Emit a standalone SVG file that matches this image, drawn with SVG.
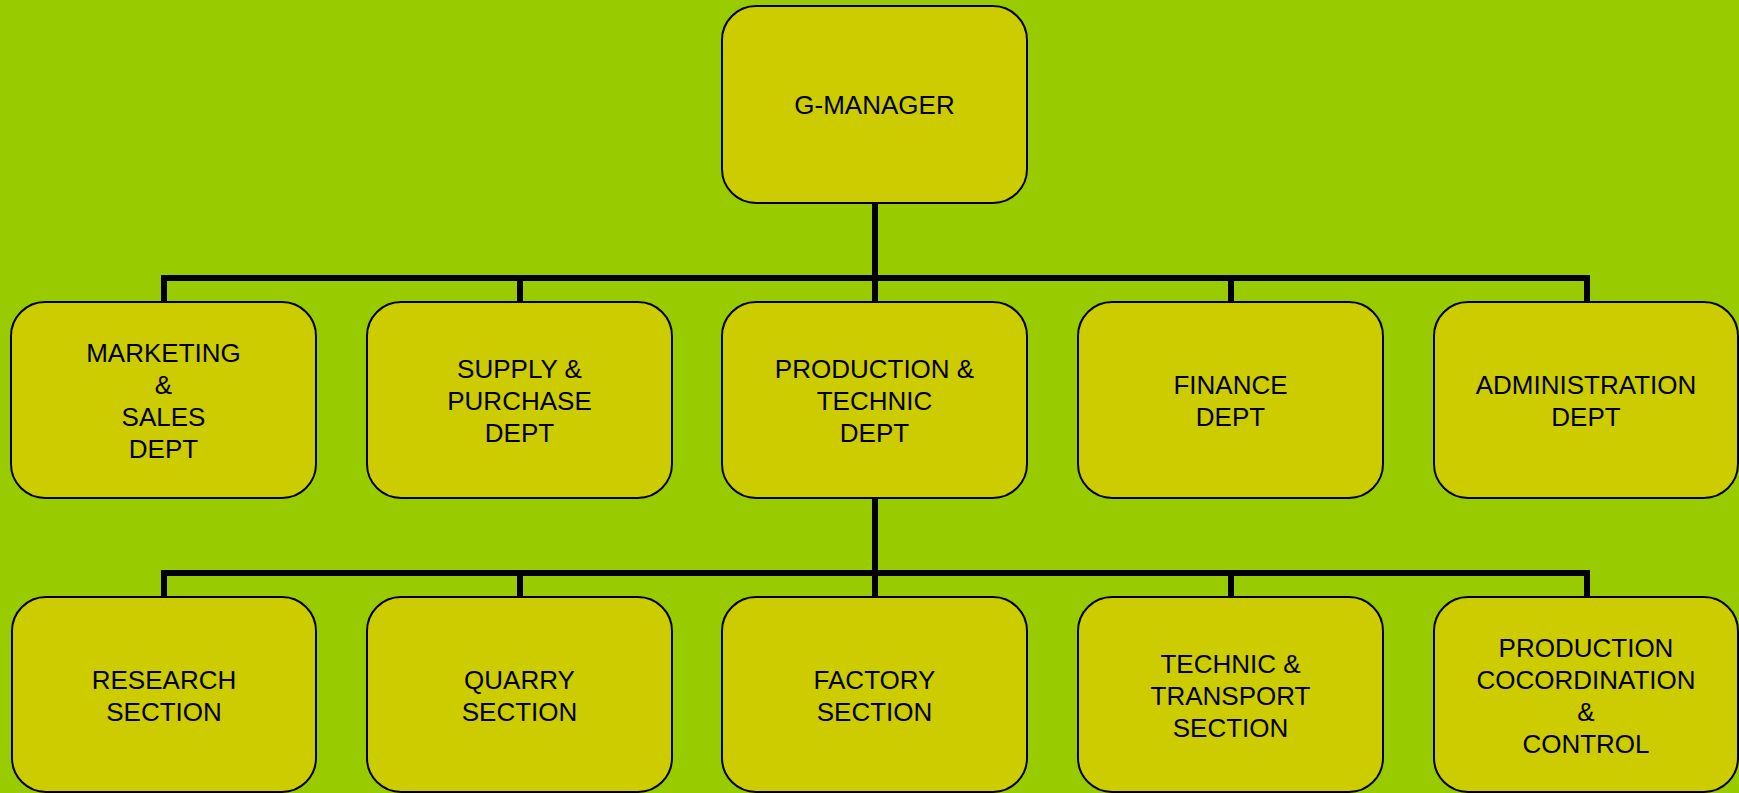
<svg xmlns="http://www.w3.org/2000/svg" width="1739" height="793" viewBox="0 0 1739 793">
<style>
.box{fill:#CCCC00;stroke:#000;stroke-width:2}
.lbl{font-family:"Liberation Sans",Arial,sans-serif;font-size:26px;fill:#000;text-anchor:middle}
.conn{stroke:#000;stroke-width:6;fill:none;stroke-linecap:butt}
</style>
<rect x="0" y="0" width="1739" height="793" fill="#99CC00"/>
<g id="connectors">
<path class="conn" d="M875,203 V302 M164,278 H1587 M164,275 V302 M520,275 V302 M1231,275 V302 M1587,275 V302"/>
<path class="conn" d="M875,498 V597 M164,573 H1587 M164,570 V597 M520,570 V597 M1231,570 V597 M1587,570 V597"/>
</g>
<g id="gmanager">
<rect class="box" x="722" y="6" width="305" height="197" rx="34"/>
<text class="lbl" x="874.5" y="114">G-MANAGER</text>
</g>
<g id="marketing">
<rect class="box" x="11" y="302" width="305" height="196" rx="34"/>
<text class="lbl" x="163.5"><tspan x="163.5" y="361.5">MARKETING</tspan><tspan x="163.5" y="393.5">&amp;</tspan><tspan x="163.5" y="425.5">SALES</tspan><tspan x="163.5" y="457.5">DEPT</tspan></text>
</g>
<g id="supply">
<rect class="box" x="367" y="302" width="305" height="196" rx="34"/>
<text class="lbl" x="519.5"><tspan x="519.5" y="377.5">SUPPLY &amp;</tspan><tspan x="519.5" y="409.5">PURCHASE</tspan><tspan x="519.5" y="441.5">DEPT</tspan></text>
</g>
<g id="production">
<rect class="box" x="722" y="302" width="305" height="196" rx="34"/>
<text class="lbl" x="874.5"><tspan x="874.5" y="377.5">PRODUCTION &amp;</tspan><tspan x="874.5" y="409.5">TECHNIC</tspan><tspan x="874.5" y="441.5">DEPT</tspan></text>
</g>
<g id="finance">
<rect class="box" x="1078" y="302" width="305" height="196" rx="34"/>
<text class="lbl" x="1230.5"><tspan x="1230.5" y="393.5">FINANCE</tspan><tspan x="1230.5" y="425.5">DEPT</tspan></text>
</g>
<g id="administration">
<rect class="box" x="1434" y="302" width="304" height="196" rx="34"/>
<text class="lbl" x="1586"><tspan x="1586" y="393.5">ADMINISTRATION</tspan><tspan x="1586" y="425.5">DEPT</tspan></text>
</g>
<g id="research">
<rect class="box" x="12" y="597" width="304" height="195" rx="34"/>
<text class="lbl" x="164"><tspan x="164" y="688.5">RESEARCH</tspan><tspan x="164" y="720.5">SECTION</tspan></text>
</g>
<g id="quarry">
<rect class="box" x="367" y="597" width="305" height="195" rx="34"/>
<text class="lbl" x="519.5"><tspan x="519.5" y="688.5">QUARRY</tspan><tspan x="519.5" y="720.5">SECTION</tspan></text>
</g>
<g id="factory">
<rect class="box" x="722" y="597" width="305" height="195" rx="34"/>
<text class="lbl" x="874.5"><tspan x="874.5" y="688.5">FACTORY</tspan><tspan x="874.5" y="720.5">SECTION</tspan></text>
</g>
<g id="technic">
<rect class="box" x="1078" y="597" width="305" height="195" rx="34"/>
<text class="lbl" x="1230.5"><tspan x="1230.5" y="672.5">TECHNIC &amp;</tspan><tspan x="1230.5" y="704.5">TRANSPORT</tspan><tspan x="1230.5" y="736.5">SECTION</tspan></text>
</g>
<g id="coordination">
<rect class="box" x="1434" y="597" width="304" height="195" rx="34"/>
<text class="lbl" x="1586"><tspan x="1586" y="656.5">PRODUCTION</tspan><tspan x="1586" y="688.5">COCORDINATION</tspan><tspan x="1586" y="720.5">&amp;</tspan><tspan x="1586" y="752.5">CONTROL</tspan></text>
</g>
</svg>
